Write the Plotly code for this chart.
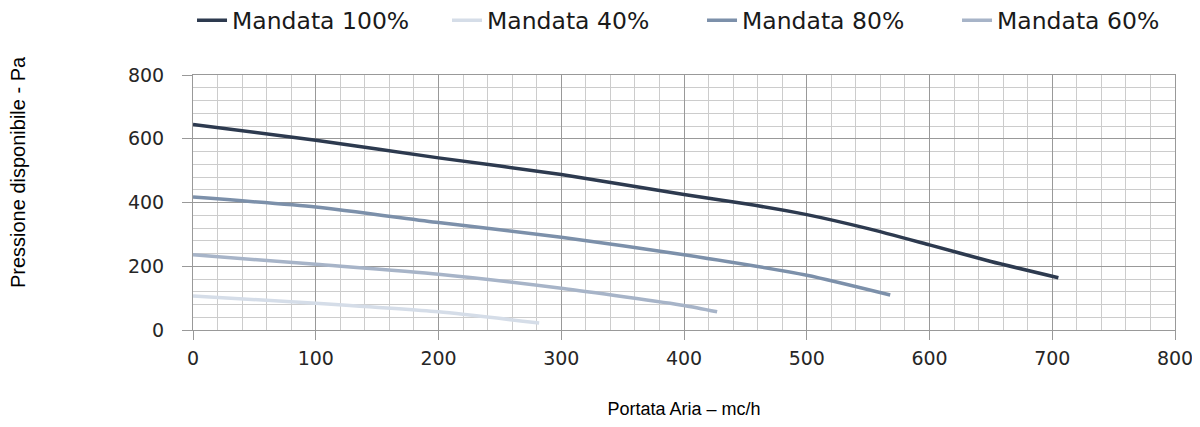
import plotly.graph_objects as go

# Data
series_names = ["Mandata 100%", "Mandata 40%", "Mandata 80%", "Mandata 60%"]

x_100 = [0, 100, 200, 300, 400, 450, 500, 550, 600, 650, 705]
y_100 = [645, 595, 540, 488, 425, 396, 362, 318, 267, 215, 164]

x_40 = [0, 100, 200, 282]
y_40 = [107, 84, 57, 22]

x_80 = [0, 100, 200, 300, 400, 500, 568]
y_80 = [417, 386, 337, 291, 236, 172, 110]

x_60 = [0, 100, 200, 300, 400, 427]
y_60 = [236, 206, 175, 131, 77, 57]

x_ticks = [0, 100, 200, 300, 400, 500, 600, 700, 800]
y_ticks = [0, 200, 400, 600, 800]

colors = ["#2d3a4f", "#d5dde8", "#7c90aa", "#a7b4c8"]
xs = [x_100, x_40, x_80, x_60]
ys = [y_100, y_40, y_80, y_60]

fig = go.Figure()
for name, x, y, c in zip(series_names, xs, ys, colors):
    fig.add_trace(go.Scatter(
        x=x, y=y, name=name, mode="lines",
        line=dict(color=c, width=3.5, shape="spline", smoothing=0.6),
        hoverinfo="x+y+name",
    ))

tick_font = dict(family="DejaVu Sans", size=19, color="#262626")

# The page body has an 8px default margin; the figure size and margins
# compensate so the plot area lands where it is in the reference.
fig.update_layout(
    width=1190, height=411,
    margin=dict(l=185, r=23, t=67, b=89, autoexpand=False),
    paper_bgcolor="white", plot_bgcolor="white",
    showlegend=True,
    legend=dict(
        orientation="h", x=-0.001, xanchor="left",
        y=1.30, yanchor="top",
        font=dict(family="DejaVu Sans", size=23.5, color="#1a1a1a"),
        itemwidth=30, entrywidth=210, traceorder="normal",
        bgcolor="rgba(0,0,0,0)",
    ),
    xaxis=dict(
        range=[0, 800], tickvals=x_ticks, ticktext=[str(v) for v in x_ticks],
        showgrid=True, gridcolor="#999999", gridwidth=1,
        minor=dict(dtick=20, tick0=0, showgrid=True, gridcolor="#cccccc", gridwidth=1),
        showline=True, linecolor="#999999", linewidth=1, mirror=True,
        ticks="outside", ticklen=9, tickcolor="#999999",
        tickfont=tick_font, ticklabelstandoff=2, ticklabeloverflow="allow",
        zeroline=False, fixedrange=True, automargin=False,
        title=dict(text="Portata Aria – mc/h",
                   font=dict(family="Liberation Sans", size=18, color="#000000"),
                   standoff=34),
    ),
    yaxis=dict(
        range=[0, 800], tickvals=y_ticks, ticktext=[str(v) for v in y_ticks],
        showgrid=True, gridcolor="#999999", gridwidth=1,
        minor=dict(dtick=40, tick0=0, showgrid=True, gridcolor="#cccccc", gridwidth=1),
        showline=True, linecolor="#999999", linewidth=1, mirror=True,
        ticks="outside", ticklen=10, tickcolor="#999999",
        tickfont=tick_font, ticklabelstandoff=14,
        zeroline=False, fixedrange=True, automargin=False,
    ),
    annotations=[dict(
        text="Pressione disponibile - Pa", textangle=-90,
        xref="paper", yref="paper", x=-0.178, y=0.62,
        xanchor="center", yanchor="middle", showarrow=False,
        font=dict(family="Liberation Sans", size=20, color="#000000"),
    )],
)

fig.write_html("out.html")
